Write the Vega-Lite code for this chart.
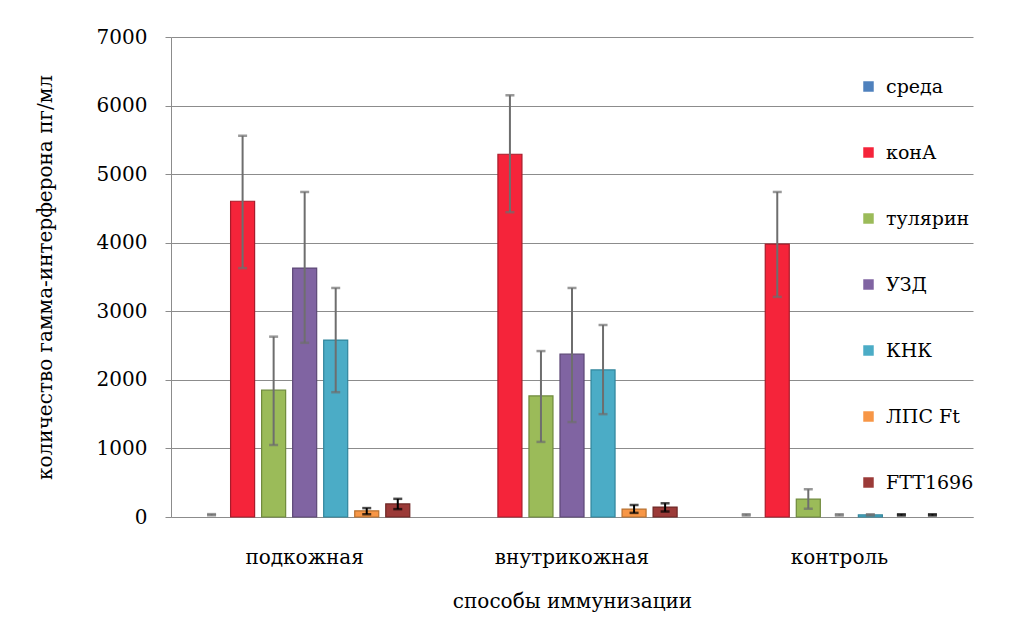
{
  "$schema": "https://vega.github.io/schema/vega-lite/v6.json",
  "width": 802,
  "height": 480,
  "autosize": {"type": "none"},
  "padding": {"left": 171, "top": 37, "right": 38, "bottom": 123},
  "background": "white",
  "config": {
    "view": {"stroke": null},
    "font": "DejaVu Serif"
  },
  "data": {
    "values": [
      {"group": "подкожная", "series": "среда", "value": 0, "lo": 25, "hi": 42},
      {"group": "подкожная", "series": "конА", "value": 4605, "lo": 3630, "hi": 5560},
      {"group": "подкожная", "series": "тулярин", "value": 1850, "lo": 1050, "hi": 2630},
      {"group": "подкожная", "series": "УЗД", "value": 3630, "lo": 2540, "hi": 4740},
      {"group": "подкожная", "series": "КНК", "value": 2580, "lo": 1820, "hi": 3340},
      {"group": "подкожная", "series": "ЛПС Ft", "value": 90, "lo": 40, "hi": 130},
      {"group": "подкожная", "series": "FTT1696", "value": 190, "lo": 115, "hi": 265},
      {"group": "внутрикожная", "series": "среда", "value": 0, "lo": null, "hi": null},
      {"group": "внутрикожная", "series": "конА", "value": 5290, "lo": 4445, "hi": 6150},
      {"group": "внутрикожная", "series": "тулярин", "value": 1765, "lo": 1095, "hi": 2420},
      {"group": "внутрикожная", "series": "УЗД", "value": 2375, "lo": 1385, "hi": 3340},
      {"group": "внутрикожная", "series": "КНК", "value": 2145, "lo": 1500, "hi": 2800},
      {"group": "внутрикожная", "series": "ЛПС Ft", "value": 115, "lo": 60, "hi": 175},
      {"group": "внутрикожная", "series": "FTT1696", "value": 145, "lo": 80, "hi": 200},
      {"group": "контроль", "series": "среда", "value": 0, "lo": 22, "hi": 40},
      {"group": "контроль", "series": "конА", "value": 3980, "lo": 3210, "hi": 4740},
      {"group": "контроль", "series": "тулярин", "value": 260, "lo": 120, "hi": 405},
      {"group": "контроль", "series": "УЗД", "value": 0, "lo": 22, "hi": 40},
      {"group": "контроль", "series": "КНК", "value": 30, "lo": 22, "hi": 40},
      {"group": "контроль", "series": "ЛПС Ft", "value": 0, "lo": 22, "hi": 40},
      {"group": "контроль", "series": "FTT1696", "value": 0, "lo": 22, "hi": 40}
    ]
  },
  "encoding": {
    "x": {
      "field": "group",
      "type": "nominal",
      "sort": ["подкожная", "внутрикожная", "контроль"],
      "scale": {"paddingInner": 0, "paddingOuter": 0},
      "axis": {
        "title": "способы иммунизации",
        "labelAngle": 0,
        "ticks": false,
        "tickSize": 0,
        "labelPadding": 30,
        "labelFontSize": 20,
        "labelColor": "black",
        "labelFont": "DejaVu Serif",
        "domainColor": "#8c8c8c",
        "domainWidth": 1,
        "titleFontSize": 20,
        "titleFontWeight": "normal",
        "titleFont": "DejaVu Serif",
        "titleColor": "black",
        "titlePadding": 24
      }
    },
    "xOffset": {
      "field": "series",
      "type": "nominal",
      "sort": ["среда", "конА", "тулярин", "УЗД", "КНК", "ЛПС Ft", "FTT1696"],
      "scale": {"paddingInner": 0.226, "paddingOuter": 0.92}
    }
  },
  "layer": [
    {
      "transform": [{"filter": "datum.value > 0"}],
      "mark": {"type": "bar", "strokeWidth": 1.2},
      "encoding": {
        "y": {
          "field": "value",
          "type": "quantitative",
          "scale": {"domain": [0, 7000]},
          "axis": {
            "title": "количество гамма-интерферона пг/мл",
            "values": [0, 1000, 2000, 3000, 4000, 5000, 6000, 7000],
            "format": "d",
            "tickSize": 6,
            "tickColor": "#8c8c8c",
            "domainColor": "#8c8c8c",
            "gridColor": "#8c8c8c",
            "gridWidth": 1,
            "labelPadding": 18,
            "labelFontSize": 20,
            "labelColor": "black",
            "labelFont": "DejaVu Serif",
            "titleFontSize": 20,
            "titleFontWeight": "normal",
            "titleFont": "DejaVu Serif",
            "titleColor": "black",
            "titleAngle": 270,
            "titleX": -126,
            "titleY": 240,
            "titleBaseline": "middle",
            "titleAlign": "center"
          }
        },
        "color": {
          "field": "series",
          "type": "nominal",
          "sort": ["среда", "конА", "тулярин", "УЗД", "КНК", "ЛПС Ft", "FTT1696"],
          "scale": {
            "domain": ["среда", "конА", "тулярин", "УЗД", "КНК", "ЛПС Ft", "FTT1696"],
            "range": ["#4F81BD", "#F5243A", "#9BBB59", "#8064A2", "#4BACC6", "#F79646", "#9B3A38"]
          },
          "legend": {
            "title": null,
            "orient": "none",
            "legendX": 688,
            "legendY": 40,
            "symbolType": "square",
            "symbolSize": 110,
            "symbolStrokeWidth": 0,
            "labelFontSize": 19,
            "labelFont": "DejaVu Serif",
            "labelColor": "black",
            "labelOffset": 8,
            "rowPadding": 46
          }
        },
        "stroke": {
          "field": "series",
          "type": "nominal",
          "scale": {
            "domain": ["среда", "конА", "тулярин", "УЗД", "КНК", "ЛПС Ft", "FTT1696"],
            "range": ["#385d8a", "#a81c2b", "#6f8a3c", "#5c4776", "#31859c", "#b8702f", "#6e2725"]
          },
          "legend": null
        }
      }
    },
    {
      "transform": [{"filter": "datum.lo != null"}],
      "mark": {"type": "rule", "strokeWidth": 2},
      "encoding": {
        "y": {"field": "lo", "type": "quantitative"},
        "y2": {"field": "hi"},
        "color": {
          "condition": {"test": "datum.series === 'ЛПС Ft' || datum.series === 'FTT1696'", "value": "#000000"},
          "value": "#6e6e6e"
        }
      }
    },
    {
      "transform": [{"filter": "datum.lo != null"}],
      "mark": {"type": "tick", "size": 9, "thickness": 2.5},
      "encoding": {
        "y": {"field": "lo", "type": "quantitative"},
        "color": {
          "condition": {"test": "datum.series === 'ЛПС Ft' || datum.series === 'FTT1696'", "value": "#000000"},
          "value": "#6e6e6e"
        }
      }
    },
    {
      "transform": [{"filter": "datum.hi != null"}],
      "mark": {"type": "tick", "size": 9, "thickness": 2.5},
      "encoding": {
        "y": {"field": "hi", "type": "quantitative"},
        "color": {
          "condition": {"test": "datum.series === 'ЛПС Ft' || datum.series === 'FTT1696'", "value": "#000000"},
          "value": "#6e6e6e"
        }
      }
    }
  ]
}
